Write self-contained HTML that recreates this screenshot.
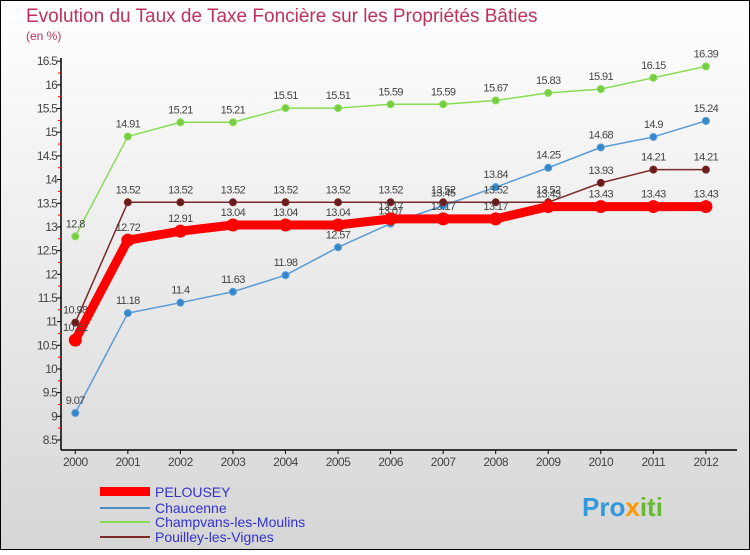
<!DOCTYPE html>
<html><head><meta charset="utf-8"><style>
body{margin:0;width:750px;height:550px;overflow:hidden;font-family:"Liberation Sans",sans-serif}
svg text{font-family:"Liberation Sans",sans-serif}
</style></head><body>
<svg id="c" width="750" height="550">
<defs><linearGradient id="bg" x1="0" y1="0" x2="0" y2="1"><stop offset="0" stop-color="#ffffff"/><stop offset="1" stop-color="#d6d6d6"/></linearGradient></defs>
<rect x="0.5" y="0.5" width="749" height="549" fill="url(#bg)" stroke="#000"/>
<text x="26" y="22" font-size="19" fill="#c0305e">Evolution du Taux de Taxe Foncière sur les Propriétés Bâties</text>
<text x="26" y="40" font-size="12" fill="#c0305e">(en %)</text>
<g id="axes"></g><g id="series"></g>
<g>
<rect x="100" y="487" width="50" height="9" fill="#ff0000"/>
<text x="155" y="497" font-size="14" fill="#3333cc">PELOUSEY</text>
<line x1="100" y1="508" x2="150" y2="508" stroke="#4a8fc8" stroke-width="2"/>
<text x="155" y="513" font-size="14" fill="#3333cc">Chaucenne</text>
<line x1="100" y1="522" x2="150" y2="522" stroke="#88dd55" stroke-width="2"/>
<text x="155" y="527" font-size="14" fill="#3333cc">Champvans-les-Moulins</text>
<line x1="100" y1="537" x2="150" y2="537" stroke="#7a2a2a" stroke-width="2"/>
<text x="155" y="542" font-size="14" fill="#3333cc">Pouilley-les-Vignes</text>
</g>
<text x="582" y="516" font-size="26" font-weight="bold" fill="#3399dd">Pro<tspan fill="#ff9900">x</tspan><tspan fill="#66bb33">iti</tspan></text>
</svg>
<script>
const years=[2000,2001,2002,2003,2004,2005,2006,2007,2008,2009,2010,2011,2012];
const yTicks=[8.5,9,9.5,10,10.5,11,11.5,12,12.5,13,13.5,14,14.5,15,15.5,16,16.5];
const pelousey=[10.61,12.72,12.91,13.04,13.04,13.04,13.17,13.17,13.17,13.43,13.43,13.43,13.43];
const chaucenne=[9.07,11.18,11.4,11.63,11.98,12.57,13.07,13.45,13.84,14.25,14.68,14.9,15.24];
const champvans=[12.8,14.91,15.21,15.21,15.51,15.51,15.59,15.59,15.67,15.83,15.91,16.15,16.39];
const pouilley=[10.98,13.52,13.52,13.52,13.52,13.52,13.52,13.52,13.52,13.52,13.93,14.21,14.21];
const NS="http://www.w3.org/2000/svg";
const xs=i=>75.3+i*52.55;
const ys=v=>440-(v-8.5)*47.35;
function mk(t,a,p){const e=document.createElementNS(NS,t);for(const k in a)e.setAttribute(k,a[k]);p.appendChild(e);return e;}
const ax=document.getElementById('axes');
let l=mk('line',{x1:61,y1:58,x2:61,y2:450,stroke:'#000','stroke-width':1.5},ax);


l=mk('line',{x1:61,y1:450,x2:737,y2:450,stroke:'#000','stroke-width':1.5},ax);


yTicks.forEach((v,i)=>{
  mk('line',{x1:57,y1:ys(v),x2:61,y2:ys(v),stroke:'#000'},ax);
  if(i<yTicks.length-1)mk('line',{x1:58,y1:ys(v+0.25),x2:61,y2:ys(v+0.25),stroke:'#e00'},ax);
  const t=mk('text',{x:57,y:ys(v)+4,'text-anchor':'end','font-size':12,fill:'#444','letter-spacing':'-0.8'},ax);
  t.textContent=String(v);
  
  
});
years.forEach((y,i)=>{
  mk('line',{x1:xs(i),y1:450,x2:xs(i),y2:454,stroke:'#000'},ax);
  const t=mk('text',{x:xs(i),y:466,'text-anchor':'middle','font-size':12,fill:'#444','letter-spacing':'-0.5'},ax);
  t.textContent=String(y);
  
  
});
const sg=document.getElementById('series');
function draw(data,name,color,w,r,fill){
  const g=mk('g',{},sg);
  
  
  const p=mk('polyline',{points:data.map((v,i)=>xs(i)+','+ys(v)).join(' '),fill:'none',stroke:color,'stroke-width':w,'stroke-linejoin':'round'},g);
  
  
  data.forEach((v,i)=>{
    const c=mk('circle',{cx:xs(i),cy:ys(v),r:r,fill:fill,stroke:color,'stroke-width':1},g);
    
    
    const t=mk('text',{x:xs(i),y:ys(v)-9,'text-anchor':'middle','font-size':11,fill:'#444','letter-spacing':'-0.6'},g);
    t.textContent=String(v);
    
    
  });
}
draw(champvans,'champvans','#88dd55',1.5,3.5,'#77cc44');
draw(chaucenne,'chaucenne','#5b9bd5',1.5,3.5,'#3388cc');
draw(pouilley,'pouilley','#7a2a2a',1.5,3.5,'#6a1a1a');
draw(pelousey,'pelousey','#ff0000',9,6,'#ff0000');
</script>
</body></html>
